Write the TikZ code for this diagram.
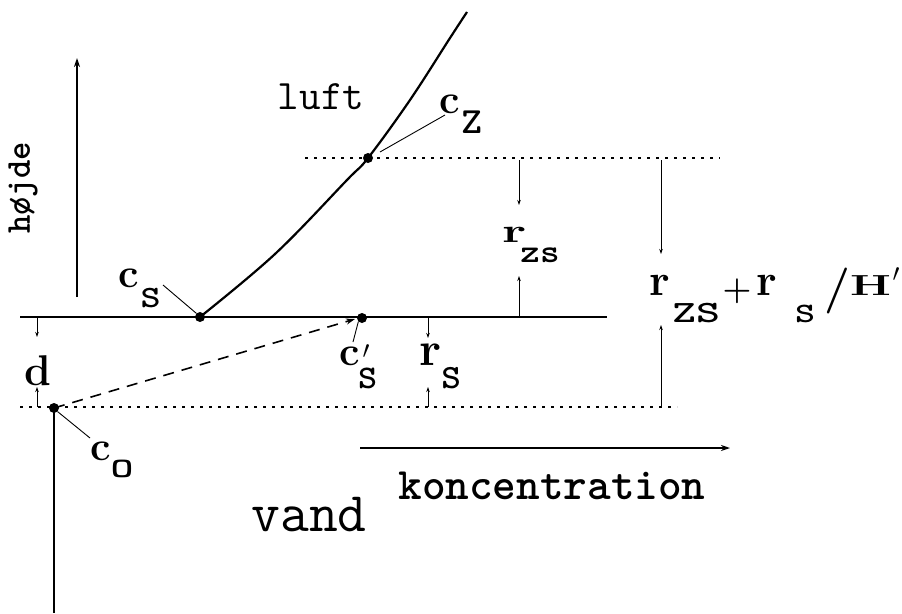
\documentclass[tikz,border=0pt]{standalone}
\usepackage{fontspec}
\usetikzlibrary{arrows.meta}
\newcommand\fsz[1]{\fontsize{#1}{#1}\selectfont}
\newcommand\tbf[3]{\scalebox{#2}[1]{\ttfamily\bfseries\fsz{#1}#3}}
\begin{document}
\begin{tikzpicture}[x=1pt,y=-1pt,
  thick line/.style={line width=2.2pt},
  thin line/.style={line width=0.9pt},
  dotline/.style={line width=1.3pt,dash pattern=on 3pt off 6pt},
  dashline/.style={line width=1.6pt,dash pattern=on 11pt off 8pt},
  dimarrow/.style={line width=0.9pt,-{Stealth[length=5pt,width=3.5pt]}},
  bigarrow/.style={line width=2.2pt,-{Stealth[length=9pt,width=6pt]}},
  dot/.style={circle,fill=black,inner sep=0pt,minimum size=10pt},
  lbl/.style={inner sep=0pt,anchor=base west}
]
\useasboundingbox (0,0) rectangle (902,613);
% coordinates
\coordinate (sl) at (20,317);
\coordinate (sr) at (607,317);
\coordinate (tl) at (305,158);
\coordinate (tr) at (720,158);
\coordinate (bl) at (20,407);
\coordinate (br) at (677,407);
\coordinate (h1) at (77,297);
\coordinate (h2) at (77,58);
\coordinate (k1) at (360,448);
\coordinate (k2) at (730,448);
\coordinate (vb) at (54,613);
% dots
\node[dot] (cs) at (200,317) {};
\node[dot] (cz) at (368,158) {};
\node[dot] (csp) at (362,318) {};
\node[dot] (co) at (54,408) {};
% lines
\draw[thick line] (sl) -- (sr);
\draw[dotline] (tl) -- (tr);
\draw[dotline] (bl) -- (br);
\draw[thick line] (co.center) -- (vb);
\draw[bigarrow] (h1) -- (h2);
\draw[bigarrow] (k1) -- (k2);
\draw[thick line] plot[smooth,tension=0.6] coordinates {(200,317) (275,254) (347,180) (368,158) (410,100) (450,38) (467,12)};
\draw[dashline,-{Stealth[length=9pt,width=6pt]}] (co.center) -- (355,319);
% dimension arrows
\coordinate (rzs1) at (519,160);
\coordinate (rzs2) at (519,205);
\coordinate (rzs3) at (519,317);
\coordinate (rzs4) at (519,276);
\draw[dimarrow] (rzs1) -- (rzs2);
\draw[dimarrow] (rzs3) -- (rzs4);
\coordinate (R1) at (661,160);
\coordinate (R2) at (661,254);
\coordinate (R3) at (661,407);
\coordinate (R4) at (661,325);
\draw[dimarrow] (R1) -- (R2);
\draw[dimarrow] (R3) -- (R4);
\coordinate (rs1) at (428,317);
\coordinate (rs2) at (428,338);
\coordinate (rs3) at (428,407);
\coordinate (rs4) at (428,387);
\draw[dimarrow] (rs1) -- (rs2);
\draw[dimarrow] (rs3) -- (rs4);
\coordinate (d1) at (37,317);
\coordinate (d2) at (37,337);
\coordinate (d3) at (37,407);
\coordinate (d4) at (37,387);
\draw[dimarrow] (d1) -- (d2);
\draw[dimarrow] (d3) -- (d4);
% words
\node[inner sep=0pt] (luft) at (321,97) {\ttfamily\fsz{42}luft};
\node[inner sep=0pt] (vand) at (309,515) {\ttfamily\fsz{56}vand};
\node[inner sep=0pt] (konc) at (552,486) {\ttfamily\bfseries\fsz{45}koncentration};
\node[inner sep=0pt,rotate=90] (hojde) at (23,188) {\ttfamily\bfseries\fsz{35}højde};
% labels c
\node[lbl] (Lcs) at (118,287) {\bfseries\fsz{41}c\kern2pt\raisebox{-20pt}{\tbf{31}{1.23}{S}}};
\node[lbl] (Lcz) at (439,113) {\bfseries\fsz{41}c\kern2pt\raisebox{-20pt}{\tbf{37}{1.08}{Z}}};
\node[lbl] (Lcsp) at (339,365) {\bfseries\fsz{41}c};
\node[inner sep=0pt] (Lpr) at (366,352) {\fsz{26}$\prime$};
\node[lbl] (Lcsps) at (358,388) {\tbf{33}{1.1}{S}};
\node[lbl] (Lco) at (90,460) {\bfseries\fsz{41}c\kern0pt\raisebox{-17pt}{\tbf{28}{1.56}{O}}};
\node[lbl] (Lrs) at (419,365) {\bfseries\fsz{48}r\kern0pt\raisebox{-23pt}{\tbf{34}{1.1}{S}}};
\node[lbl] (Ld) at (24,385) {\bfseries\fsz{43}d};
\node[lbl] (Lrzs) at (502,242) {\scalebox{1.55}[1]{\bfseries\fsz{34}r}\kern-6pt\raisebox{-20pt}{\tbf{33}{1.13}{zs}}};
% big label
\node[lbl] (b1) at (649,295) {\bfseries\fsz{45}r};
\node[lbl] (b2) at (672,322) {\tbf{31}{1.47}{ZS}};
\node[inner sep=0pt] (b3) at (737,291) {\bfseries\fsz{33}+};
\node[lbl] (b4) at (756,295) {\bfseries\fsz{45}r};
\node[lbl] (b5) at (795,322) {\tbf{28}{1.36}{S}};
\node[inner sep=0pt] (b6) at (837,291) {\bfseries\fsz{46}/};
\node[lbl] (b7) at (850,295) {\scalebox{1.6}[1]{\bfseries\fsz{29}H}};
\node[inner sep=0pt] (b8) at (896,275) {\fsz{26}$\prime$};
% leaders
\draw[thin line] (163,285) -- (cs.north west);
\draw[thin line] (445,115) -- (380,152);
\draw[thin line] (353,342) -- (csp.south west);
\draw[thin line] (90,438) -- (co.south east);
\end{tikzpicture}
\end{document}
